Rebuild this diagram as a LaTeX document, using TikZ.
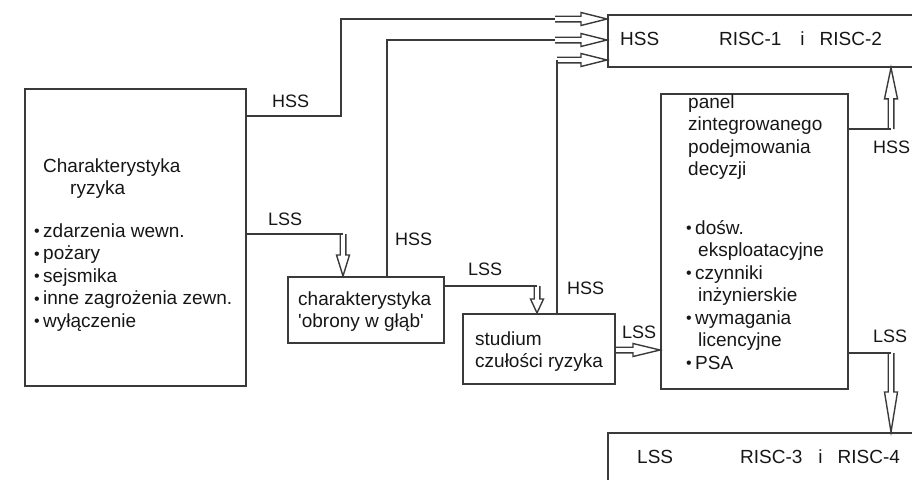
\documentclass[tikz,border=0pt]{standalone}
\usepackage{fontspec}
\setmainfont{Liberation Sans}
\usetikzlibrary{calc}
\definecolor{linegray}{HTML}{3A3A3A}
\definecolor{inkgray}{HTML}{161616}
% small hanging bullet for the lists
\newcommand\bul{\makebox[0pt][r]{\raisebox{0.5pt}{\fontsize{16}{16}\selectfont\textbullet}\hspace{3.5pt}}}
% hollow block arrow: [head length]{start}{tip}
\newcommand\blockarrow[3][22]{%
  \coordinate (ba-s) at (#2);
  \coordinate (ba-e) at (#3);
  \coordinate (ba-b) at ($(ba-e)!#1pt!(ba-s)$);
  \draw[arrowline]
    ($(ba-s)!2.8pt!90:(ba-e)$) -- ($(ba-b)!2.8pt!-90:(ba-s)$)
    -- ($(ba-b)!6.5pt!-90:(ba-s)$) -- (ba-e)
    -- ($(ba-b)!6.5pt!90:(ba-s)$) -- ($(ba-b)!2.8pt!90:(ba-s)$)
    -- ($(ba-s)!2.8pt!-90:(ba-e)$);
}
\begin{document}
\begin{tikzpicture}[x=1pt,y=-1pt,
  box/.style={draw=linegray, line width=1.8pt, anchor=north west, inner sep=0pt},
  wire/.style={draw=linegray, line width=1.8pt},
  arrowline/.style={draw=linegray, line width=1.4pt, line join=miter},
  lbl/.style={font=\fontsize{18}{22}\selectfont, text=inkgray, inner sep=0pt, anchor=base west},
  txt/.style={font=\fontsize{19}{22.5}\selectfont, text=inkgray, inner sep=0pt, align=left, anchor=north west},
]
\useasboundingbox (0,0) rectangle (912,479);
\clip (0,0) rectangle (912,479);

% boxes
\node[box, minimum width=221pt, minimum height=297pt] (risk)  at (24,88)  {};
\node[box, minimum width=156pt, minimum height=66pt]  (obr)   at (287,276) {};
\node[box, minimum width=152pt, minimum height=70pt]  (stud)  at (462,313) {};
\node[box, minimum width=187pt, minimum height=295pt] (panel) at (660,93)  {};
\node[box, minimum width=340pt, minimum height=52pt]  (top)   at (607,14)  {};
\node[box, minimum width=340pt, minimum height=80pt]  (bot)   at (607,432) {};

% box texts
\node[txt] (risktxt) at (43,158.2) {Charakterystyka\\
  \hspace*{27pt}ryzyka\\[20pt]
  \bul zdarzenia wewn.\\
  \bul pożary\\
  \bul sejsmika\\
  \bul inne zagrożenia zewn.\\
  \bul wyłączenie};
\node[txt, font=\fontsize{19}{22}\selectfont] (obrtxt) at (298,291.4)
  {charakterystyka\\\textquotesingle obrony w głąb\textquotesingle};
\node[txt, font=\fontsize{19}{22}\selectfont] (studtxt) at (475,331.4)
  {studium\\czułości ryzyka};
\node[txt] (paneltxt) at (695,94.4) {\hspace*{-7pt}panel\\
  \hspace*{-7pt}zintegrowanego\\
  \hspace*{-7pt}podejmowania\\
  \hspace*{-7pt}decyzji\\[36pt]
  \bul dośw.\\
  \hspace*{3pt}eksploatacyjne\\
  \bul czynniki\\
  \hspace*{3pt}inżynierskie\\
  \bul wymagania\\
  \hspace*{3pt}licencyjne\\
  \bul PSA};
\node[lbl, font=\fontsize{19}{22}\selectfont] (tophss) at (620,45) {HSS};
\node[lbl, font=\fontsize{19}{22}\selectfont] (toprisc) at (719,45)
  {RISC-1\hspace{19pt}i\hspace{15pt}RISC-2};
\node[lbl, font=\fontsize{19}{22}\selectfont] (botlss) at (637,463) {LSS};
\node[lbl, font=\fontsize{19}{22}\selectfont] (botrisc) at (740,463)
  {RISC-3\hspace{16pt}i\hspace{15pt}RISC-4};

% way points of the connectors
\coordinate (a1) at (555,19);
\coordinate (a2) at (555,40);
\coordinate (a3) at (557,60);
\coordinate (b1) at (343,234);
\coordinate (b2) at (537,286);
\coordinate (b3) at (614,350);
\coordinate (c1) at (891,129);
\coordinate (c2) at (891,353);

% HSS paths into RISC-1 i RISC-2
\draw[wire] (risk.east |- 0,116) -| (341,19) -- (a1);
\blockarrow[26]{a1}{top.west |- a1}
\draw[wire] (obr.north -| 387,0) |- (a2);
\blockarrow[26]{a2}{top.west |- a2}
\draw[wire] (stud.north -| a3) -- (a3);
\blockarrow[26]{a3}{top.west |- a3}
\draw[wire] (panel.east |- c1) -- (c1);
\blockarrow[31]{c1}{top.south -| c1}

% LSS paths
\draw[wire] (risk.east |- b1) -- (b1);
\blockarrow[21]{b1}{obr.north -| b1}
\draw[wire] (obr.east |- b2) -- (b2);
\blockarrow[14]{b2}{stud.north -| b2}
\blockarrow[27]{stud.east |- b3}{panel.west |- b3}
\draw[wire] (panel.east |- c2) -- (c2);
\blockarrow[40]{c2}{bot.north -| c2}

% connector labels
\node[lbl] (l1) at (272,107) {HSS};
\node[lbl] (l2) at (268,225) {LSS};
\node[lbl] (l3) at (395,245) {HSS};
\node[lbl] (l4) at (468,275) {LSS};
\node[lbl] (l5) at (567,294) {HSS};
\node[lbl] (l6) at (622,338) {LSS};
\node[lbl] (l7) at (873,153) {HSS};
\node[lbl] (l8) at (873,342) {LSS};
\end{tikzpicture}
\end{document}
